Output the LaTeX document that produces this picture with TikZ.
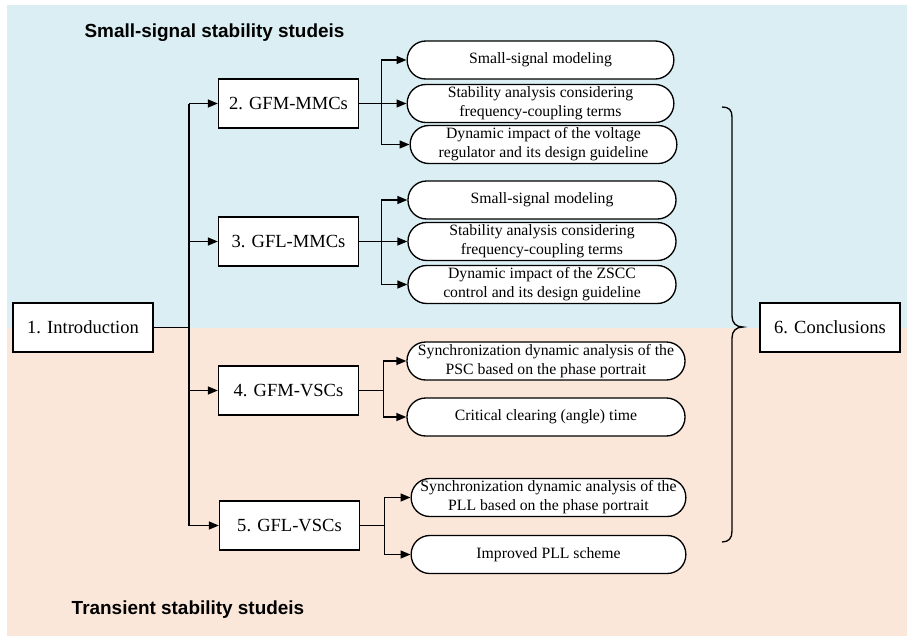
\documentclass[tikz,border=0pt]{standalone}
\usepackage{fontspec}
\setmainfont{Liberation Serif}
\newfontfamily\headfont{Liberation Sans}
\usetikzlibrary{arrows.meta}
\definecolor{ssblue}{HTML}{DAEEF3}
\definecolor{tssalmon}{HTML}{FBE7D9}
\begin{document}
\begin{tikzpicture}[x=0.75pt,y=-0.75pt,
  box/.style={draw,line width=1pt,minimum width=105pt,minimum height=36.75pt,
    inner sep=0pt,fill=white,font=\fontsize{13.9}{16}\selectfont},
  pill/.style={draw,line width=1pt,rounded corners=14pt,minimum height=28.5pt,
    inner sep=0pt,align=center,fill=white,font=\fontsize{11.8}{14.3}\selectfont},
  link/.style={line width=1pt},
  arr/.style={link,-{Triangle[length=7.5pt,width=6pt]}},
  heading/.style={font=\headfont\bfseries\fontsize{14.2}{17}\selectfont}]

% canvas and the two study regions
\useasboundingbox (0,0) rectangle (907,636);
\fill[white] (0,0) rectangle (907,636);
\fill[ssblue] (7,5) rectangle (907,328);
\fill[tssalmon] (7,328) rectangle (907,636);

\node[heading] (hss) at (214.5,33) {Small-signal stability studeis};
\node[heading] (hts) at (188,610) {Transient stability studeis};

% section boxes
\node[box] (intro) at (83,327.5) {1. Introduction};
\node[box] (b2) at (288.5,103.5) {2. GFM-MMCs};
\node[box] (b3) at (288.5,241.5) {3. GFL-MMCs};
\node[box] (b4) at (288.5,390.5) {4. GFM-VSCs};
\node[box] (b5) at (289.5,525.5) {5. GFL-VSCs};
\node[box] (concl) at (830,327.5) {6. Conclusions};

% topic pills
\node[pill,minimum width=200pt] (p21) at (540.5,60) {Small-signal modeling};
\node[pill,minimum width=200pt] (p22) at (540.5,103.5) {Stability analysis considering\\frequency-coupling terms};
\node[pill,minimum width=200pt] (p23) at (543.5,144.5) {Dynamic impact of the voltage\\regulator and its design guideline};

\node[pill,minimum width=201pt] (p31) at (542,200) {Small-signal modeling};
\node[pill,minimum width=201pt] (p32) at (542,241.5) {Stability analysis considering\\frequency-coupling terms};
\node[pill,minimum width=201pt] (p33) at (542,284.5) {Dynamic impact of the ZSCC\\control and its design guideline};

\node[pill,minimum width=208.5pt] (p41) at (546,361) {Synchronization dynamic analysis of the\\PSC based on the phase portrait};
\node[pill,minimum width=208.5pt] (p42) at (546,417) {Critical clearing (angle) time};

\node[pill,minimum width=206pt] (p51) at (548.5,497.5) {Synchronization dynamic analysis of the\\PLL based on the phase portrait};
\node[pill,minimum width=206pt] (p52) at (548.5,554.5) {Improved PLL scheme};

% trunk from the introduction to every section
\coordinate (trunk) at (189,327.5);
\draw[link] (intro.east) -- (trunk);
\draw[link] (trunk |- b2.west) -- (trunk |- b5.west);
\foreach \b in {b2,b3,b4,b5}
  \draw[arr] (trunk |- \b.west) -- (\b.west);

% branches from each section to its topics
\draw[link] (b2.east) -- ++(22,0) coordinate (s2);
\draw[link] (s2 |- p21.west) -- (s2 |- p23.west);
\foreach \p in {p21,p22,p23}
  \draw[arr] (s2 |- \p.west) -- (\p.west);

\draw[link] (b3.east) -- ++(22,0) coordinate (s3);
\draw[link] (s3 |- p31.west) -- (s3 |- p33.west);
\foreach \p in {p31,p32,p33}
  \draw[arr] (s3 |- \p.west) -- (\p.west);

\draw[link] (b4.east) -- ++(24,0) coordinate (s4);
\draw[link] (s4 |- p41.west) -- (s4 |- p42.west);
\foreach \p in {p41,p42}
  \draw[arr] (s4 |- \p.west) -- (\p.west);

\draw[link] (b5.east) -- ++(24,0) coordinate (s5);
\draw[link] (s5 |- p51.west) -- (s5 |- p52.west);
\foreach \p in {p51,p52}
  \draw[arr] (s5 |- \p.west) -- (\p.west);

% brace gathering all topics towards the conclusions
\draw[link] (722,107) .. controls (729,107) and (732,110) .. (732,117)
  -- (732,316) .. controls (732,323) and (736,327) .. (743,327)
  .. controls (736,327) and (732,331) .. (732,338)
  -- (732,531) .. controls (732,538) and (729,542) .. (722,542);
\end{tikzpicture}
\end{document}
